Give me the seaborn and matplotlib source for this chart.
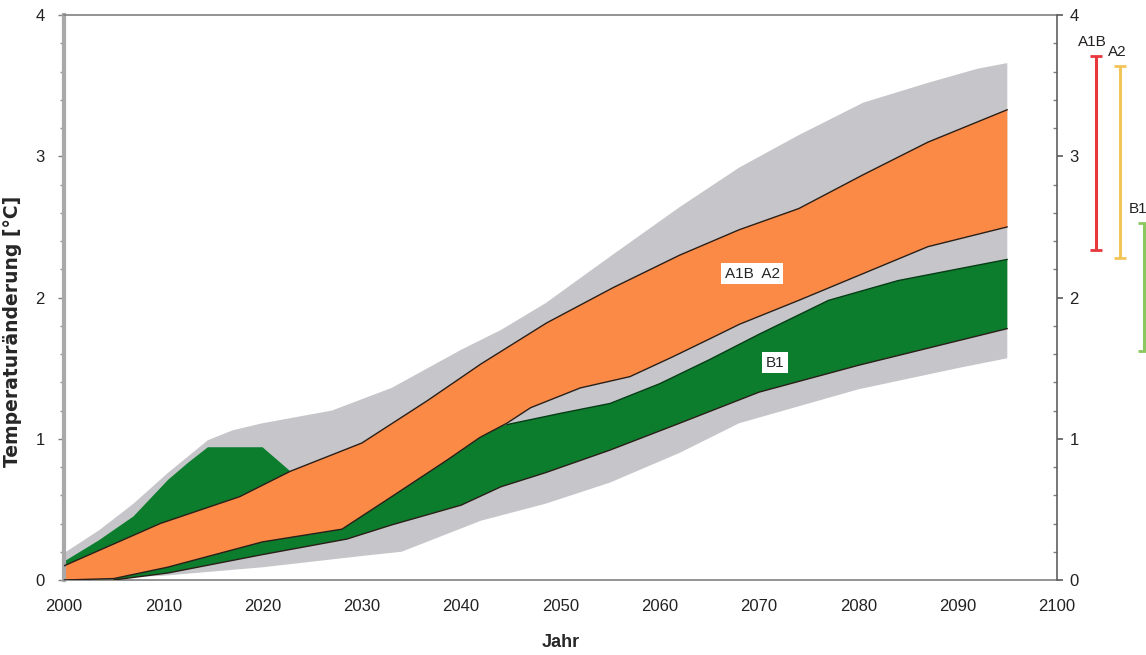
import numpy as np
import matplotlib
matplotlib.use("Agg")
import matplotlib.pyplot as plt
import seaborn as sns

# === Datos ===
# Banda gris (rango total de modelos)
gray_hi_years = [2000, 2003.5, 2007, 2010.5, 2014.5, 2017, 2020, 2027, 2033, 2040, 2044,
                 2048.5, 2055, 2062, 2068, 2074, 2080.5, 2087, 2092, 2095]
gray_hi = [0.19, 0.35, 0.54, 0.76, 0.99, 1.06, 1.11, 1.20, 1.36, 1.63, 1.77,
           1.96, 2.29, 2.64, 2.92, 3.15, 3.38, 3.52, 3.62, 3.66]
gray_lo_years = [2000, 2010, 2020, 2030, 2034, 2042, 2048.5, 2055, 2062, 2068, 2080, 2090, 2095]
gray_lo = [0.0, 0.03, 0.09, 0.17, 0.20, 0.42, 0.54, 0.69, 0.90, 1.11, 1.35, 1.50, 1.57]

# Banda verde (B1)
b1_hi_years = [2000, 2003.5, 2007, 2010.5, 2012.5, 2014.5, 2020, 2022.8, 2044.6, 2050,
               2055, 2060, 2065, 2070, 2077, 2084, 2095]
b1_hi = [0.13, 0.28, 0.45, 0.71, 0.83, 0.94, 0.94, 0.77, 1.10, 1.18,
         1.25, 1.39, 1.56, 1.74, 1.98, 2.12, 2.27]
b1_lo_years = [2000, 2005, 2010.5, 2020, 2028.5, 2033, 2040, 2044, 2048.5, 2055, 2062,
               2070, 2080, 2095]
b1_lo = [0.0, 0.0, 0.05, 0.18, 0.29, 0.39, 0.53, 0.66, 0.76, 0.92, 1.11,
         1.33, 1.52, 1.78]

# Banda naranja (A1B / A2)
a_hi_years = [2000, 2009.7, 2017.7, 2022.8, 2030, 2036.6, 2042, 2048.6, 2055.3, 2062,
              2068, 2074, 2080.5, 2087, 2095]
a_hi = [0.10, 0.40, 0.59, 0.77, 0.97, 1.27, 1.53, 1.82, 2.07, 2.30,
        2.48, 2.63, 2.87, 3.10, 3.33]
a_lo_years = [2000, 2005, 2010.4, 2020, 2028, 2033, 2038.6, 2041.9, 2044.6, 2047, 2052,
              2057, 2061.3, 2065.4, 2068, 2074, 2080.5, 2087, 2095]
a_lo = [0.0, 0.01, 0.09, 0.27, 0.36, 0.59, 0.85, 1.01, 1.11, 1.22, 1.36,
        1.44, 1.58, 1.72, 1.81, 1.98, 2.17, 2.36, 2.50]

# Rangos 2090-2099 a la derecha
range_names = ["A1B", "A2", "B1"]
range_lo = [2.34, 2.28, 1.62]
range_hi = [3.71, 3.64, 2.53]
range_colors = ["#e8383c", "#f2c55a", "#8cc860"]

GRAY = "#c6c6ca"
GREEN = "#0b7d2c"
ORANGE = "#fb8a47"
EDGE = "#2a1f18"

sns.set_theme(style="white")
plt.rcParams["font.family"] = ["Liberation Sans", "DejaVu Sans"]

fig = plt.figure(figsize=(11.46, 6.55), dpi=100)
ax = fig.add_axes([0.0558, 0.1145, 0.8665, 0.8625])


def band(x_hi, y_hi, x_lo, y_lo, color):
    xs = np.r_[x_hi, x_lo[::-1]]
    ys = np.r_[y_hi, y_lo[::-1]]
    ax.fill(xs, ys, color=color, lw=0, zorder=2)


band(gray_hi_years, gray_hi, gray_lo_years, gray_lo, GRAY)
band(b1_hi_years, b1_hi, b1_lo_years, b1_lo, GREEN)
band(a_hi_years, a_hi, a_lo_years, a_lo, ORANGE)

# bordes oscuros
sns.lineplot(x=b1_lo_years[1:], y=b1_lo[1:], ax=ax, color=EDGE, lw=1, zorder=3)
sns.lineplot(x=b1_hi_years[8:], y=b1_hi[8:], ax=ax, color="#063d16", lw=1, zorder=3)
sns.lineplot(x=a_hi_years, y=a_hi, ax=ax, color=EDGE, lw=1, zorder=3)
sns.lineplot(x=a_lo_years, y=a_lo, ax=ax, color=EDGE, lw=1, zorder=3)

# etiquetas en las bandas
box = dict(boxstyle="square,pad=0.25", fc="white", ec="none")
ax.text(2069.3, 2.17, "A1B  A2", fontsize=11, ha="center", va="center", bbox=box, zorder=5)
ax.text(2071.6, 1.54, "B1", fontsize=11, ha="center", va="center", bbox=box, zorder=5)

# barras de rango fuera del eje
for i, (name, lo, hi, c) in enumerate(zip(range_names, range_lo, range_hi, range_colors)):
    xpos = 2103.9 + 2.45 * i
    ax.errorbar([xpos], [(lo + hi) / 2], yerr=[[(hi - lo) / 2], [(hi - lo) / 2]],
                fmt="none", ecolor=c, elinewidth=2.2, capsize=4, capthick=2,
                clip_on=False, zorder=5)
    if i < 2:
        ax.text(xpos - 0.3, hi + 0.05, name, fontsize=11, ha="center", va="bottom",
                color="#222222", clip_on=False)
    else:
        # al borde de la figura: alineado a la derecha para que quepa
        ax.text(xpos + 0.35, hi + 0.05, name, fontsize=11, ha="right", va="bottom",
                color="#222222", clip_on=False)

ax.set_xlim(2000, 2100)
ax.set_ylim(0, 4)
ax.set_xticks(range(2000, 2101, 10))
ax.set_yticks([0, 1, 2, 3, 4])
ax.set_yticks(np.arange(0, 4.01, 0.2), minor=True)
ax.tick_params(axis="both", which="major", labelsize=12, colors="#222222")
ax.tick_params(axis="x", which="major", direction="out", length=4, width=1, color="#808080", pad=10)
ax.tick_params(axis="y", which="major", direction="out", length=4, width=1, color="#808080", pad=10)
ax.tick_params(axis="y", which="minor", direction="out", length=3, width=1, color="#909090", left=True)

ax.set_xlabel("Jahr", fontsize=13, fontweight="bold", labelpad=14)
ax.set_ylabel("Temperaturänderung [°C]", fontsize=13.5, fontweight="bold",
              family=["DejaVu Sans"])
ax.yaxis.set_label_coords(-0.042, 0.44)

for side in ["top", "bottom"]:
    ax.spines[side].set_color("#808080")
    ax.spines[side].set_linewidth(1.2)
ax.spines["left"].set_color("#a8a8a8")
ax.spines["left"].set_linewidth(3)
ax.spines["right"].set_visible(False)

# eje derecho
ax2 = ax.twinx()
ax2.set_ylim(0, 4)
ax2.set_yticks([0, 1, 2, 3, 4])
ax2.set_yticks(np.arange(0, 4.01, 0.2), minor=True)
ax2.tick_params(axis="y", which="major", labelsize=12, colors="#222222", length=4,
                color="#606060", direction="out", pad=5)
ax2.tick_params(axis="y", which="minor", length=3, color="#808080", direction="in", right=True)
for side in ["top", "bottom", "left"]:
    ax2.spines[side].set_visible(False)
ax2.spines["right"].set_color("#606060")
ax2.spines["right"].set_linewidth(1.2)
ax2.grid(False)

fig.savefig("out.png", dpi=100)
